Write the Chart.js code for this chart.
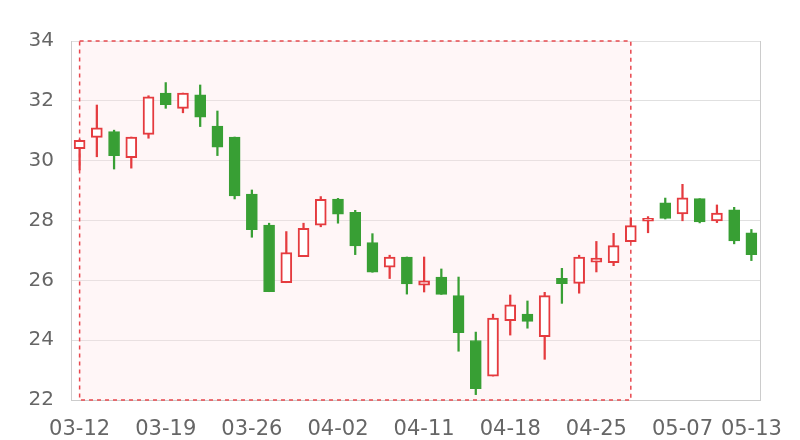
<!DOCTYPE html>
<html>
<head>
  <meta charset="UTF-8">
  <title>K线图</title>
  <script src="https://cdn.jsdelivr.net/npm/chart.js"></script>
  <style>
    html, body { margin: 0; padding: 0; background: #fff; }
    #wrap { width: 800px; height: 440px; }
  </style>
</head>
<body>
<div id="wrap"><canvas id="chartK"></canvas></div>
<script>
  // trading days
  const dates = [
    '03-12', '03-13', '03-14', '03-15', '03-16', '03-19', '03-20', '03-21', '03-22', '03-23',
    '03-26', '03-27', '03-28', '03-29', '03-30', '04-02', '04-03', '04-04', '04-09', '04-10',
    '04-11', '04-12', '04-13', '04-16', '04-17', '04-18', '04-19', '04-20', '04-23', '04-24',
    '04-25', '04-26', '04-27', '05-02', '05-03', '05-07', '05-08', '05-09', '05-10', '05-13'
  ];
  const openVals = [
    30.40, 30.78, 30.97, 30.10, 30.88, 32.26, 31.75, 32.20, 31.16, 30.79,
    28.88, 27.85, 25.92, 26.79, 27.84, 28.72, 28.27, 27.26, 26.44, 26.78,
    25.84, 26.11, 25.49, 23.99, 22.80, 24.65, 24.87, 24.12, 26.07, 25.90,
    26.61, 26.59, 27.29, 27.98, 28.59, 28.22, 28.73, 27.99, 28.36, 27.59
  ];
  const closeVals = [
    30.68, 31.10, 30.17, 30.79, 32.13, 31.87, 32.26, 31.45, 30.45, 28.82,
    27.69, 25.62, 26.93, 27.74, 28.71, 28.21, 27.15, 26.27, 26.78, 25.88,
    25.98, 25.53, 24.25, 22.38, 24.74, 25.18, 24.63, 25.49, 25.89, 26.78,
    26.74, 27.16, 27.83, 28.07, 28.07, 28.76, 27.95, 28.25, 27.32, 26.86
  ];
  const lowVals = [
    29.69, 30.13, 29.72, 29.75, 30.75, 31.75, 31.60, 31.14, 30.17, 28.72,
    27.44, 25.62, 25.92, 26.79, 27.79, 27.91, 26.86, 26.27, 26.06, 25.54,
    25.61, 25.53, 23.63, 22.18, 22.80, 24.17, 24.40, 23.36, 25.23, 25.57,
    26.28, 26.49, 27.29, 27.59, 28.05, 27.99, 27.92, 27.93, 27.22, 26.66
  ];
  const highVals = [
    30.70, 31.86, 31.02, 30.79, 32.17, 32.61, 32.26, 32.53, 31.66, 30.79,
    29.02, 27.91, 27.63, 27.91, 28.80, 28.74, 28.34, 27.56, 26.84, 26.78,
    26.78, 26.38, 26.11, 24.27, 24.87, 25.51, 25.31, 25.60, 26.40, 26.84,
    27.30, 27.57, 28.09, 28.13, 28.75, 29.21, 28.73, 28.52, 28.44, 27.70
  ];
  const yTicks = [22, 24, 26, 28, 30, 32, 34];

  // highlighted range
  const markStart = '03-12';
  const markEnd = '04-27';

  const upColor = '#e53b3f';
  const downColor = '#389f34';

  const isUp = openVals.map((o, i) => closeVals[i] >= o);
  const bodyData = openVals.map((o, i) => [o, closeVals[i]]);
  const wickData = lowVals.map((l, i) => [l, highVals[i]]);

  const markArea = {
    id: 'markArea',
    beforeDatasetsDraw(chart) {
      const { ctx, chartArea, scales } = chart;
      const x1 = scales.x.getPixelForValue(dates.indexOf(markStart));
      const x2 = scales.x.getPixelForValue(dates.indexOf(markEnd));
      const y1 = scales.y.getPixelForValue(yTicks[yTicks.length - 1]);
      const y2 = scales.y.getPixelForValue(yTicks[0]);
      ctx.save();
      // right border of the grid
      ctx.strokeStyle = '#cccccc';
      ctx.lineWidth = 1;
      ctx.beginPath();
      ctx.moveTo(Math.round(chartArea.right) + 0.5, chartArea.top);
      ctx.lineTo(Math.round(chartArea.right) + 0.5, chartArea.bottom);
      ctx.stroke();

      ctx.fillStyle = 'rgba(255, 225, 228, 0.3)';
      ctx.fillRect(x1, y1, x2 - x1, y2 - y1);
      ctx.strokeStyle = '#e8484e';
      ctx.lineWidth = 1.5;
      ctx.setLineDash([4, 4]);
      ctx.strokeRect(x1, y1, x2 - x1, y2 - y1);
      ctx.restore();
    }
  };

  const ctx = document.getElementById('chartK').getContext('2d');
  new Chart(ctx, {
    type: 'bar',
    data: {
      labels: dates,
      datasets: [
        {
          label: 'body',
          data: bodyData,
          grouped: false,
          order: 0,
          barThickness: 11,
          borderSkipped: false,
          backgroundColor: isUp.map(u => u ? '#ffffff' : downColor),
          borderColor: isUp.map(u => u ? upColor : downColor),
          borderWidth: isUp.map(u => u ? 2 : 1)
        },
        {
          label: 'wick',
          data: wickData,
          grouped: false,
          order: 1,
          barThickness: 1.6,
          borderSkipped: false,
          borderWidth: 0,
          backgroundColor: isUp.map(u => u ? upColor : downColor)
        }
      ]
    },
    options: {
      responsive: true,
      maintainAspectRatio: false,
      animation: false,
      layout: { padding: { left: 0, right: 40, top: 41, bottom: 0 } },
      plugins: {
        legend: { display: false },
        tooltip: { enabled: false }
      },
      scales: {
        x: {
          offset: true,
          grid: { display: false },
          border: { display: true, color: '#cccccc' },
          afterFit(scale) { scale.height = 40; },
          ticks: {
            autoSkip: false,
            maxRotation: 0,
            padding: 9,
            color: '#666666',
            font: { family: 'DejaVu Sans', size: 21 },
            callback(value, index) {
              return (index % 5 === 0 || index === dates.length - 1) ? dates[index] : '';
            }
          }
        },
        y: {
          min: yTicks[0],
          max: yTicks[yTicks.length - 1],
          afterFit(scale) { scale.width = 71; },
          afterBuildTicks(scale) { scale.ticks = yTicks.map(v => ({ value: v })); },
          grid: { color: '#e0e0e0', drawTicks: false },
          border: { display: true, color: '#cccccc' },
          ticks: {
            padding: 17,
            color: '#666666',
            font: { family: 'DejaVu Sans', size: 20 }
          }
        }
      }
    },
    plugins: [markArea]
  });
</script>
</body>
</html>
